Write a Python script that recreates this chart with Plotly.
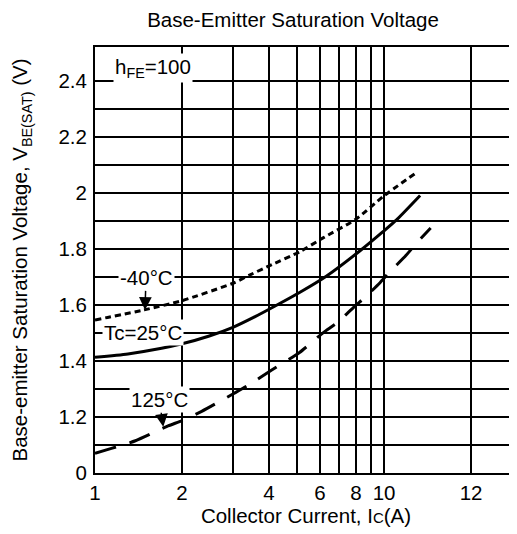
import plotly.graph_objects as go

# ---- data ----
x_m40 = [1.0, 1.48, 2.0, 3.0, 3.44, 4.1, 5.12, 6.13, 8.0, 9.94, 12.86]
y_m40 = [1.546, 1.582, 1.615, 1.677, 1.707, 1.744, 1.79, 1.838, 1.906, 1.987, 2.07]

x_25 = [1.0, 1.30, 1.70, 2.0, 2.47, 3.0, 3.58, 4.2, 5.12, 6.33, 8.26, 9.94, 11.07, 13.33]
y_25 = [1.413, 1.425, 1.445, 1.461, 1.488, 1.52, 1.558, 1.596, 1.645, 1.703, 1.793, 1.862, 1.904, 1.99]

x_125 = [1.0, 1.14, 1.38, 1.79, 2.0, 2.34, 3.0, 3.4, 4.1, 5.1, 6.15, 6.9, 7.9, 8.6, 9.7, 10.5, 11.9, 12.8, 14.5]
y_125 = [1.07, 1.088, 1.115, 1.168, 1.187, 1.22, 1.282, 1.314, 1.368, 1.43, 1.5, 1.537, 1.594, 1.627, 1.68, 1.719, 1.776, 1.814, 1.874]

x_tickvals = [1, 2, 3, 4, 5, 6, 7, 8, 9, 10, 20]
x_ticktext = ["1", "2", "", "4", "", "6", "", "8", "", "10", "12"]

y_tickvals = [1.0, 1.1, 1.2, 1.3, 1.4, 1.5, 1.6, 1.7, 1.8, 1.9, 2.0, 2.1, 2.2, 2.3, 2.4]
y_ticktext = ["0", "", "1.2", "", "1.4", "", "1.6", "", "1.8", "", "2", "", "2.2", "", "2.4"]

FONT = "Liberation Sans, Arial, sans-serif"
FS = 20.5

# page body has an 8px default margin, so the figure is sized/placed to compensate
W, H = 509, 526

fig = go.Figure()
fig.add_trace(go.Scatter(x=x_m40, y=y_m40, mode="lines", name="-40°C",
                         line=dict(color="black", width=3, dash="6px,4px", shape="spline", smoothing=0.6)))
fig.add_trace(go.Scatter(x=x_25, y=y_25, mode="lines", name="Tc=25°C",
                         line=dict(color="black", width=3, shape="spline", smoothing=0.6)))
fig.add_trace(go.Scatter(x=x_125, y=y_125, mode="lines", name="125°C",
                         line=dict(color="black", width=3, dash="22px,14px", shape="spline", smoothing=0.6)))

ann_common = dict(font=dict(family=FONT, size=FS, color="black"), bgcolor="white", borderpad=1)

fig.add_annotation(x=0.2007, y=2.446, xref="x", yref="y", text="h<sub>FE</sub>=100",
                   showarrow=False, **ann_common)
fig.add_annotation(x=0.1671, y=1.50, xref="x", yref="y", text="Tc=25°C",
                   showarrow=False, **ann_common)
fig.add_annotation(x=0.173, y=1.582, xref="x", yref="y", text="-40°C",
                   showarrow=True, ax=1, ay=-32, arrowhead=2, arrowsize=1.7, arrowwidth=1.5,
                   arrowcolor="black", **ann_common)
fig.add_annotation(x=0.2363, y=1.165, xref="x", yref="y", text="125°C",
                   showarrow=True, ax=-4, ay=-27, arrowhead=2, arrowsize=1.7, arrowwidth=1.5,
                   arrowcolor="black", **ann_common)

fig.update_layout(
    width=W, height=H,
    template="none",
    showlegend=False,
    paper_bgcolor="white", plot_bgcolor="white",
    margin=dict(l=87, r=0, t=39, b=61, autoexpand=False),
    font=dict(family=FONT, size=FS, color="black"),
    title=dict(text="Base-Emitter Saturation Voltage", x=285/W, xanchor="center",
               xref="container", y=1-12/H, yanchor="middle", yref="container",
               font=dict(family=FONT, size=FS, color="black")),
    xaxis=dict(type="log", range=[0, 1.46], tickmode="array", tickvals=x_tickvals,
               ticktext=x_ticktext, showgrid=True, gridcolor="black", gridwidth=2,
               showline=True, linecolor="black", linewidth=2, mirror=True,
               ticks="", zeroline=False, automargin=False, ticklabelstandoff=0,
               title=dict(text="Collector Current, I<span style='font-size:15px'>C</span>(A)",
                          standoff=3, font=dict(family=FONT, size=FS))),
    yaxis=dict(range=[1.0, 2.52], tickmode="array", tickvals=y_tickvals,
               ticktext=y_ticktext, showgrid=True, gridcolor="black", gridwidth=2,
               showline=True, linecolor="black", linewidth=2, mirror=False,
               ticks="", zeroline=False, automargin=False, ticklabelstandoff=2,
               title=dict(text="Base-emitter Saturation Voltage, V<sub>BE(SAT)</sub> (V)",
                          standoff=25, font=dict(family=FONT, size=FS))),
)

fig.write_html("out.html")
